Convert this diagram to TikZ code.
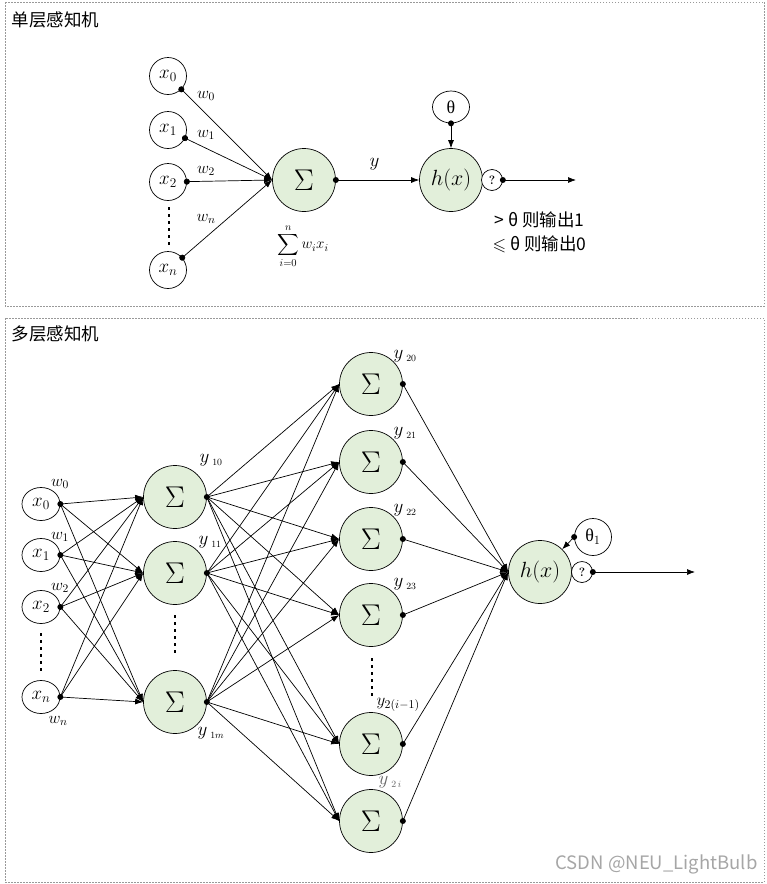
\documentclass[tikz,border=0pt]{standalone}
\usepackage{fix-cm}
\usepackage{amssymb}
\usepackage{fontspec}
\newfontfamily\cjk{Noto Sans CJK SC}
\newfontfamily\grk{Liberation Serif}
\usetikzlibrary{arrows.meta, shapes.geometric}
\definecolor{sumgreen}{RGB}{226,239,218}

\begin{document}
\begin{tikzpicture}[
  x=1pt, y=-1pt,
  frame/.style={draw=gray!80, line width=0.7pt, dash pattern=on 1.5pt off 1.5pt},
  title/.style={anchor=west, font=\cjk\fontsize{17.5}{19}\selectfont},
  inp/.style={draw, circle, minimum size=37pt, inner sep=0pt, line width=0.7pt,
              font=\fontsize{19}{21}\selectfont},
  inpb/.style={draw, ellipse, minimum width=38pt, minimum height=33pt, inner sep=0pt,
              line width=0.7pt, font=\fontsize{19}{21}\selectfont},
  sumnode/.style={draw, circle, minimum size=63pt, inner sep=0pt, fill=sumgreen,
              line width=0.7pt, font=\fontsize{30}{32}\selectfont},
  act/.style={sumnode, font=\fontsize{22}{24}\selectfont},
  thetanode/.style={draw, ellipse, minimum width=37pt, minimum height=32pt, inner sep=0pt,
              line width=0.7pt, font=\grk\fontsize{18}{20}\selectfont},
  qnode/.style={draw, circle, fill=white, minimum size=21pt, inner sep=0pt,
              line width=0.7pt, font=\bfseries\fontsize{12}{14}\selectfont},
  wlbl/.style={font=\fontsize{16.5}{18}\selectfont},
  ylbl/.style={anchor=west, font=\fontsize{19}{21}\selectfont},
  note/.style={anchor=west, font=\cjk\fontsize{17.5}{19}\selectfont},
  vdots/.style={line width=2.6pt, dash pattern=on 3pt off 4pt},
  arr/.style={-{Latex[length=8pt,width=6pt]}, line width=0.7pt},
  dotarr/.style={{Circle[length=6pt]}-{Latex[length=8pt,width=6pt]}, shorten <=-3pt,
              line width=0.7pt}
 ]
\useasboundingbox (0,0) rectangle (767,884);
\draw[frame] (5,2) rectangle (764,306);
\draw[frame] (5,318) rectangle (764,882);
\node[title] (t1) at (8,20) {单层感知机};
\node[title] (t2) at (8,334) {多层感知机};

% single layer
\node[inp] (x0) at (168,76)  {$x_0$};
\node[inp] (x1) at (168,130) {$x_1$};
\node[inp] (x2) at (168,182) {$x_2$};
\node[inp] (xn) at (168,270) {$x_n$};
\draw[vdots] (169,207) -- (169,248);
\node[sumnode] (s) at (304,180) {$\Sigma$};
\node[act] (h) at (451,180) {$h(x)$};
\node[thetanode] (th) at (451,107) {θ};
\node[qnode] (q) at (492,180) {?};
\coordinate (out) at (576,180);
\node[wlbl] (w0) at (206,96)  {$w_0$};
\node[wlbl] (w1) at (206,135) {$w_1$};
\node[wlbl] (w2) at (206,171) {$w_2$};
\node[wlbl] (wn) at (206,219) {$w_n$};
\node[inner sep=0pt, font=\fontsize{15}{17}\selectfont] (sf) at (303,246) {$\displaystyle\sum_{i=0}^{n} w_i x_i$};
\node[ylbl] (y) at (366,164) {$y$};
\node[note] (gt) at (491,220) {> θ 则输出1};
\node[note] (le) at (489,244) {$\leqslant$ θ 则输出0};
\foreach \i in {x0,x1,x2,xn} \draw[dotarr] (\i) -- (s.west);
\draw[arr] (s.east) -- (h.west);
\draw[arr] (th.south) -- (h.north);
\draw[arr] (q.east) -- (out);
\foreach \i in {s.east,th.south,q.east} \fill (\i) circle (3pt);

% multi layer
\node[inpb] (bx0) at (41,504) {$x_0$};
\node[inpb] (bx1) at (41,555) {$x_1$};
\node[inpb] (bx2) at (41,607) {$x_2$};
\node[inpb] (bxn) at (41,697) {$x_n$};
\draw[vdots] (41,633) -- (41,674);
\node[sumnode] (s10) at (175,497) {$\Sigma$};
\node[sumnode] (s11) at (175,573) {$\Sigma$};
\node[sumnode] (s1m) at (175,702) {$\Sigma$};
\draw[vdots] (175,615) -- (175,656);
\node[sumnode] (s20) at (371,384) {$\Sigma$};
\node[sumnode] (s21) at (371,462) {$\Sigma$};
\node[sumnode] (s22) at (371,539) {$\Sigma$};
\node[sumnode] (s23) at (371,615) {$\Sigma$};
\node[sumnode] (s2p) at (371,744) {$\Sigma$};
\node[sumnode] (s2i) at (371,821) {$\Sigma$};
\draw[vdots] (372,658) -- (372,699);
\node[act] (h2) at (540,572) {$h(x)$};
\node[thetanode, minimum height=37pt] (th1) at (593,537) {θ$_1$};
\node[qnode] (q2) at (582,572) {?};
\coordinate (out2) at (695,572);
\node[wlbl] (bw0) at (60,484) {$w_0$};
\node[wlbl] (bw1) at (60,537) {$w_1$};
\node[wlbl] (bw2) at (60,588) {$w_2$};
\node[wlbl] (bwn) at (58,721) {$w_n$};
\node[ylbl] (y10) at (196,460) {$y_{\;\scriptscriptstyle 10}$};
\node[ylbl] (y11) at (195,542) {$y_{\;\scriptscriptstyle 11}$};
\node[ylbl] (y1m) at (194,733) {$y_{\;\scriptscriptstyle 1m}$};
\node[ylbl] (y20) at (390,356) {$y_{\;\scriptscriptstyle 20}$};
\node[ylbl] (y21) at (390,433) {$y_{\;\scriptscriptstyle 21}$};
\node[ylbl] (y22) at (390,510) {$y_{\;\scriptscriptstyle 22}$};
\node[ylbl] (y23) at (390,584) {$y_{\;\scriptscriptstyle 23}$};
\node[ylbl, font=\fontsize{17}{19}\selectfont] (y2p) at (373,705) {$y_{2(i-1)}$};
\node[ylbl, text=black!60] (y2i) at (375,782) {$y_{\;\scriptscriptstyle 2\,i}$};
\foreach \a in {bx0,bx1,bx2,bxn} {
  \foreach \b in {s10,s11,s1m} \draw[arr] (\a.east) -- (\b.west);
  \fill (\a.east) circle (3pt);
}
\foreach \a in {s10,s11,s1m} {
  \foreach \b in {s20,s21,s22,s23,s2p,s2i} \draw[arr] (\a.east) -- (\b.west);
  \fill (\a.east) circle (3pt);
}
\foreach \a in {s20,s21,s22,s23,s2p,s2i} {
  \draw[arr] (\a.east) -- (h2.west);
  \fill (\a.east) circle (3pt);
}
\draw[arr] (th1.west) -- (h2);
\draw[arr] (q2.east) -- (out2);
\foreach \i in {th1.west,q2.east} \fill (\i) circle (3pt);

\node[anchor=east, text=gray!70, font=\cjk\fontsize{18.5}{20}\selectfont] (wm) at (761,864) {CSDN @NEU\_LightBulb};
\end{tikzpicture}
\end{document}
